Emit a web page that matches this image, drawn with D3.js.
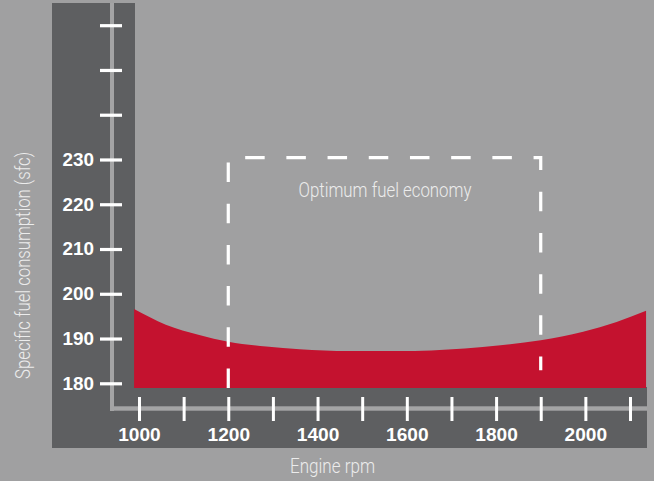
<!DOCTYPE html>
<html>
<head>
<meta charset="utf-8">
<script src="https://cdn.jsdelivr.net/npm/d3@7"></script>
<style>
  html, body { margin: 0; padding: 0; background: #a0a0a1; }
  svg { display: block; }
</style>
</head>
<body>
<svg id="chart" width="654" height="481"></svg>
<script>
// ---- data ----
const rpmTicks = [1000, 1100, 1200, 1300, 1400, 1500, 1600, 1700, 1800, 1900, 2000, 2100];
const rpmLabels = [1000, 1200, 1400, 1600, 1800, 2000];
const sfcTicks = [180, 190, 200, 210, 220, 230, 240, 250, 260];
const sfcLabels = [180, 190, 200, 210, 220, 230];
const curveRpm = [989, 1060, 1135, 1200, 1285, 1360, 1470, 1580, 1730, 1810, 1900, 1995, 2070, 2136];
const curveSfc = [196.6, 193.1, 190.8, 189.3, 188.2, 187.6, 187.2, 187.2, 187.8, 188.5, 189.6, 191.5, 193.7, 196.2];
const sfcBase = 178.95;
const optimumRpm = [1200, 1900];
const optimumTop = 230.4;
const optimumRightBottom = 182.9;
const optimumLabel = "Optimum fuel economy";
const xTitle = "Engine rpm";
const yTitle = "Specific fuel consumption (sfc)";

// ---- layout ----
const svg = d3.select("#chart");
const x = d3.scaleLinear().domain([1000, 2100]).range([139, 630]);
const y = d3.scaleLinear().domain([180, 260]).range([383.3, 25.2]);

const dark = "#5e5f61", light = "#a4a4a5", red = "#c4122f";
const labelFont = "'Liberation Sans', Arial, Helvetica, sans-serif";
const titleFont = "Roboto, 'Liberation Sans', sans-serif";

// frame bands
svg.append("rect").attr("x", 52).attr("y", 3).attr("width", 83).attr("height", 445).attr("fill", dark);
svg.append("rect").attr("x", 52).attr("y", 387).attr("width", 595).attr("height", 61).attr("fill", dark);
// light axis lines
svg.append("rect").attr("x", 110).attr("y", 3).attr("width", 4).attr("height", 408).attr("fill", light);
svg.append("rect").attr("x", 110).attr("y", 406.3).attr("width", 537).attr("height", 4.4).attr("fill", light);

// red area
const pts = curveRpm.map((r, i) => [r, curveSfc[i]]);
const area = d3.area()
  .x(d => x(d[0]))
  .y0(y(sfcBase))
  .y1(d => y(d[1]))
  .curve(d3.curveMonotoneX);
svg.append("path").datum(pts).attr("d", area).attr("fill", red);

// dashed optimum box
const p = d3.path();
p.moveTo(x(optimumRpm[0]), y(sfcBase));
p.lineTo(x(optimumRpm[0]), y(optimumTop));
p.lineTo(x(optimumRpm[1]), y(optimumTop));
p.lineTo(x(optimumRpm[1]), y(optimumRightBottom));
svg.append("path").attr("d", p.toString())
  .attr("fill", "none").attr("stroke", "#ffffff").attr("stroke-width", 3.2)
  .attr("stroke-dasharray", "19.5 21.7");

svg.append("text")
  .attr("x", (x(optimumRpm[0]) + x(optimumRpm[1])) / 2 + 0.5)
  .attr("y", 197)
  .attr("text-anchor", "middle")
  .attr("font-family", titleFont)
  .attr("font-weight", 300)
  .attr("font-size", 20)
  .attr("fill", "#ececec")
  .attr("textLength", 173).attr("lengthAdjust", "spacingAndGlyphs")
  .text(optimumLabel);

// y axis
const yAxis = d3.axisLeft(y).tickValues(sfcTicks).tickSize(22).tickPadding(6)
  .tickFormat(d => sfcLabels.includes(d) ? d : "");
const gy = svg.append("g").attr("transform", "translate(122,0)").call(yAxis);
gy.select(".domain").remove();
gy.selectAll(".tick line").attr("stroke", "#fff").attr("stroke-width", 3.2);
gy.selectAll(".tick text").attr("fill", "#fff")
  .attr("font-family", labelFont)
  .attr("font-weight", "bold").attr("font-size", 18)
  .attr("textLength", d => sfcLabels.includes(d) ? 31.5 : null)
  .attr("lengthAdjust", "spacingAndGlyphs");

// x axis
const xAxis = d3.axisBottom(x).tickValues(rpmTicks).tickSize(24).tickPadding(8)
  .tickFormat(d => rpmLabels.includes(d) ? d : "");
const gx = svg.append("g").attr("transform", "translate(0,397)").call(xAxis);
gx.select(".domain").remove();
gx.selectAll(".tick line").attr("stroke", "#fff").attr("stroke-width", 3);
gx.selectAll(".tick text").attr("fill", "#fff")
  .attr("font-family", labelFont)
  .attr("font-weight", "bold").attr("font-size", 17.5)
  .attr("textLength", d => rpmLabels.includes(d) ? 42.5 : null)
  .attr("lengthAdjust", "spacingAndGlyphs");

// axis titles
svg.append("text")
  .attr("x", 332.5).attr("y", 473.3)
  .attr("text-anchor", "middle")
  .attr("font-family", titleFont)
  .attr("font-weight", 300).attr("font-size", 20)
  .attr("fill", "#ececec")
  .attr("textLength", 85).attr("lengthAdjust", "spacingAndGlyphs")
  .text(xTitle);

svg.append("text")
  .attr("transform", "translate(29.5,265.4) rotate(-90)")
  .attr("text-anchor", "middle")
  .attr("font-family", titleFont)
  .attr("font-weight", 300).attr("font-size", 20)
  .attr("fill", "#ececec")
  .attr("textLength", 227).attr("lengthAdjust", "spacingAndGlyphs")
  .text(yTitle);
</script>
</body>
</html>
